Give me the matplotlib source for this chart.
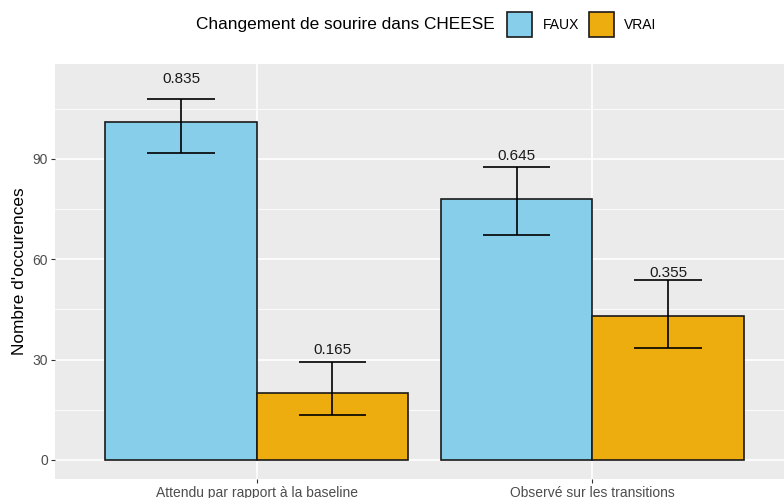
import numpy as np
import matplotlib.pyplot as plt
from matplotlib.patches import Rectangle

plt.rcParams['font.family'] = ['Liberation Sans', 'DejaVu Sans']

# data
groups = ['Attendu par rapport à la baseline', 'Observé sur les transitions']
series = ['FAUX', 'VRAI']
colors = ['#87CEEB', '#EEAD0E']
counts = {'FAUX': [101, 78], 'VRAI': [20, 43]}
lower = {'FAUX': [91.8, 67.3], 'VRAI': [13.4, 33.5]}
upper = {'FAUX': [107.8, 87.7], 'VRAI': [29.3, 53.8]}
props = {'FAUX': ['0.835', '0.645'], 'VRAI': ['0.165', '0.355']}

W, H = 784, 498
fig = plt.figure(figsize=(W / 100, H / 100), dpi=100)
# panel is cut at the right edge in the reference
ax = fig.add_axes([55 / W, (H - 478.7) / H, 739 / W, (478.7 - 64) / H])
ax.set_facecolor('#EBEBEB')

x = np.arange(1, len(groups) + 1)
bw = 0.45
for i, s in enumerate(series):
    xs = x + (i - 0.5) * bw
    ax.bar(xs, counts[s], width=bw, color=colors[i], edgecolor='#1a1a1a',
           linewidth=1.2, zorder=3)
    ax.vlines(xs, lower[s], upper[s], color='black', lw=1.2, zorder=4)
    ax.hlines(lower[s], xs - 0.1, xs + 0.1, color='black', lw=1.2, zorder=4)
    ax.hlines(upper[s], xs - 0.1, xs + 0.1, color='black', lw=1.2, zorder=4)
    for xi, c, p in zip(xs, counts[s], props[s]):
        ax.text(xi, c + 13, p, ha='center', va='center', fontsize=11,
                color='#1a1a1a', zorder=5)

ax.set_xlim(0.4, 2.6)
ax.set_ylim(-5.6, 118.4)
ax.set_xticks(x)
ax.set_xticklabels(groups)
ax.set_yticks([0, 30, 60, 90])
ax.set_yticks([15, 45, 75, 105], minor=True)
ax.grid(True, which='major', color='white', lw=1.2, zorder=0)
ax.grid(True, which='minor', axis='y', color='white', lw=0.6, zorder=0)
ax.set_axisbelow(True)
for sp in ax.spines.values():
    sp.set_visible(False)
ax.tick_params(which='major', length=3, width=0.8, color='#333333',
               labelcolor='#4D4D4D', labelsize=10, pad=2)
ax.tick_params(which='minor', length=0)
ax.set_ylabel("Nombre d'occurences", fontsize=12.4, labelpad=4)

# legend drawn in pixels at the top
def fx(px):
    return px / W

def fy(py):
    return 1 - py / H

fig.text(fx(196), fy(25), 'Changement de sourire dans CHEESE', fontsize=12.4,
         ha='left', va='center')
key_x = [507, 589]
lab_x = [543, 624]
for i, s in enumerate(series):
    fig.patches.append(Rectangle((fx(key_x[i]), fy(37)), fx(25), 25 / H,
                                 transform=fig.transFigure, facecolor=colors[i],
                                 edgecolor='#1a1a1a', lw=1.2))
    fig.text(fx(lab_x[i]), fy(25), s, fontsize=10, ha='left', va='center')

fig.savefig('out.png', dpi=100)
